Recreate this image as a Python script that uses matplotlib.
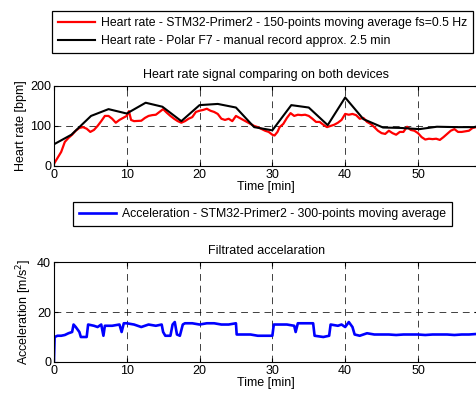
"""
Heart rate and acceleration comparison chart (STM32-Primer2 vs Polar F7).
"""

import matplotlib
matplotlib.use("Agg")
import matplotlib.pyplot as plt

# Polar F7 manual record, approx. every 2.5 min
polar_t = [0, 2.4, 5.1, 7.5, 10, 12.6, 14.9, 17.5, 20, 22.5, 25, 27.5, 30, 32.6,
           35, 37.6, 40, 42.5, 45.2, 47.6, 50.2, 52.6, 55.2, 57.7, 58.4]
polar_hr = [54, 78, 125, 142, 131, 158, 148, 112, 152, 155, 146, 97, 89, 152,
            146, 102, 171, 117, 96, 95, 92, 98, 97, 97, 100]

# STM32 heart rate, 150-points moving average
stm_t = [0, 0.5, 1, 1.5, 2, 2.5, 3, 3.5, 4, 4.5, 5, 5.5, 6, 6.5, 7, 7.5, 8, 8.5,
         9, 9.5, 10, 10.3, 10.6, 11, 12, 12.5, 13, 13.5, 14, 14.5, 15, 15.5, 16,
         16.5, 17, 17.5, 18, 18.5, 19, 19.5, 20, 20.5, 21, 21.5, 22, 22.5, 23,
         23.5, 24, 24.5, 25, 25.5, 26, 27, 27.5, 28, 29, 29.5, 30, 30.3, 30.7, 31,
         31.5, 32, 32.5, 33, 33.5, 34, 34.5, 35, 35.5, 36, 36.5, 37, 37.5, 38,
         38.5, 39, 39.5, 40, 40.5, 41, 41.5, 42, 42.5, 43, 43.5, 44, 44.5, 45,
         45.5, 46, 46.5, 47, 47.5, 48, 48.5, 49, 49.5, 50, 50.5, 51, 51.5, 52,
         52.5, 53, 53.5, 54, 54.5, 55, 55.5, 56, 57, 57.5, 58, 58.4]
stm_hr = [5, 20, 35, 60, 70, 78, 88, 95, 97, 93, 85, 90, 100, 112, 125, 125, 118,
          108, 115, 120, 125, 137, 115, 112, 113, 120, 125, 127, 128, 135, 142,
          133, 125, 118, 112, 108, 112, 118, 122, 135, 138, 140, 143, 138, 135,
          130, 118, 115, 118, 112, 125, 120, 115, 105, 100, 97, 88, 85, 78, 76,
          85, 97, 105, 120, 132, 125, 128, 127, 128, 125, 118, 110, 110, 103, 97,
          100, 103, 108, 115, 130, 128, 130, 127, 118, 120, 110, 105, 97, 88, 82,
          80, 88, 82, 78, 85, 85, 98, 90, 88, 82, 72, 66, 68, 67, 68, 65, 72, 80,
          88, 92, 85, 85, 88, 95, 97, 96]

# STM32 acceleration, 300-points moving average
acc_t = [0, 0.1, 0.5, 1, 1.5, 2, 2.5, 2.7, 3, 3.5, 3.7, 4.5, 4.7, 5.5, 6, 6.5,
         6.8, 7, 8, 9, 9.3, 9.6, 10, 11, 12, 13, 14, 14.8, 15, 15.3, 16, 16.3,
         16.6, 16.9, 17.3, 17.7, 18, 19, 20, 21, 22, 23, 24, 25, 25.1, 26, 27,
         28, 29, 30, 30.2, 31, 32, 33, 33.2, 33.5, 34, 35, 35.6, 35.8, 37, 37.8,
         38, 39, 39.5, 40, 40.5, 41, 41.3, 42, 43, 44, 45, 46, 47, 48, 49, 50,
         51, 52, 53, 54, 55, 56, 57, 58, 58.4]
acc = [0, 10, 10.5, 10.5, 10.8, 11.5, 12, 15, 14, 12, 10, 10, 15, 14.5, 14, 15,
       10.5, 14.5, 14.5, 15, 12, 15.5, 15.5, 15, 14, 15, 14.5, 15, 12, 10.5, 10.5,
       15, 16, 11, 10.5, 15, 15.5, 15.5, 15, 15.5, 15.5, 15, 15, 15.5, 11, 11, 11,
       10.5, 10.5, 10.5, 15, 15, 15, 14.5, 12, 15.5, 15.5, 15.5, 15.5, 10.5, 10,
       10.5, 15, 14.5, 15, 14, 16, 14, 11, 10.5, 11.5, 11, 11, 11, 10.8, 11, 11,
       11, 10.8, 11, 11, 11, 10.8, 11, 11, 11.2, 11.3]

plt.rcParams["font.family"] = ["Liberation Sans", "DejaVu Sans"]
plt.rcParams["font.size"] = 9

fig = plt.figure(figsize=(4.77, 3.96), dpi=100)


def style_axes(ax, yticks):
    ax.set_xlim(0, 58.3)
    ax.set_xticks([0, 10, 20, 30, 40, 50])
    ax.set_ylim(yticks[0], yticks[-1])
    ax.set_yticks(yticks)
    ax.tick_params(direction="in", length=3, top=True, right=True, pad=2)
    ax.grid(True, color="black", linestyle=(0, (7, 5)), linewidth=0.7, alpha=0.75)
    ax.set_xlabel("Time [min]", labelpad=0)
    for s in ax.spines.values():
        s.set_linewidth(0.8)


ax1 = fig.add_axes([0.113, 0.581, 0.89, 0.202])
l1, = ax1.plot(stm_t, stm_hr, color="red", linewidth=1.6,
               label="Heart rate - STM32-Primer2 - 150-points moving average fs=0.5 Hz")
l2, = ax1.plot(polar_t, polar_hr, color="black", linewidth=1.5,
               label="Heart rate - Polar F7 - manual record approx. 2.5 min")
style_axes(ax1, [0, 100, 200])
ax1.set_ylabel("Heart rate [bpm]", labelpad=2)
ax1.set_title("Heart rate signal comparing on both devices", fontsize=9, pad=6)

ax2 = fig.add_axes([0.113, 0.086, 0.89, 0.252])
l3, = ax2.plot(acc_t, acc, color="blue", linewidth=1.9,
               label="Acceleration - STM32-Primer2 - 300-points moving average")
style_axes(ax2, [0, 20, 40])
ax2.set_ylabel("Acceleration [m/s$^2$]", labelpad=2)
ax2.set_title("Filtrated accelaration", fontsize=9, pad=6)

leg_kw = dict(frameon=True, fancybox=False, edgecolor="black", framealpha=1,
              borderpad=0.5, handlelength=3.0, handletextpad=0.5,
              labelspacing=0.5, borderaxespad=0, fontsize=8.8)
leg1 = fig.legend(handles=[l1, l2], loc="upper left",
                  bbox_to_anchor=(0.109, 0.972), **leg_kw)
leg2 = fig.legend(handles=[l3], loc="upper left",
                  bbox_to_anchor=(0.153, 0.49), **leg_kw)
for leg in (leg1, leg2):
    leg.get_frame().set_linewidth(0.9)

fig.savefig("out.png", dpi=100)
